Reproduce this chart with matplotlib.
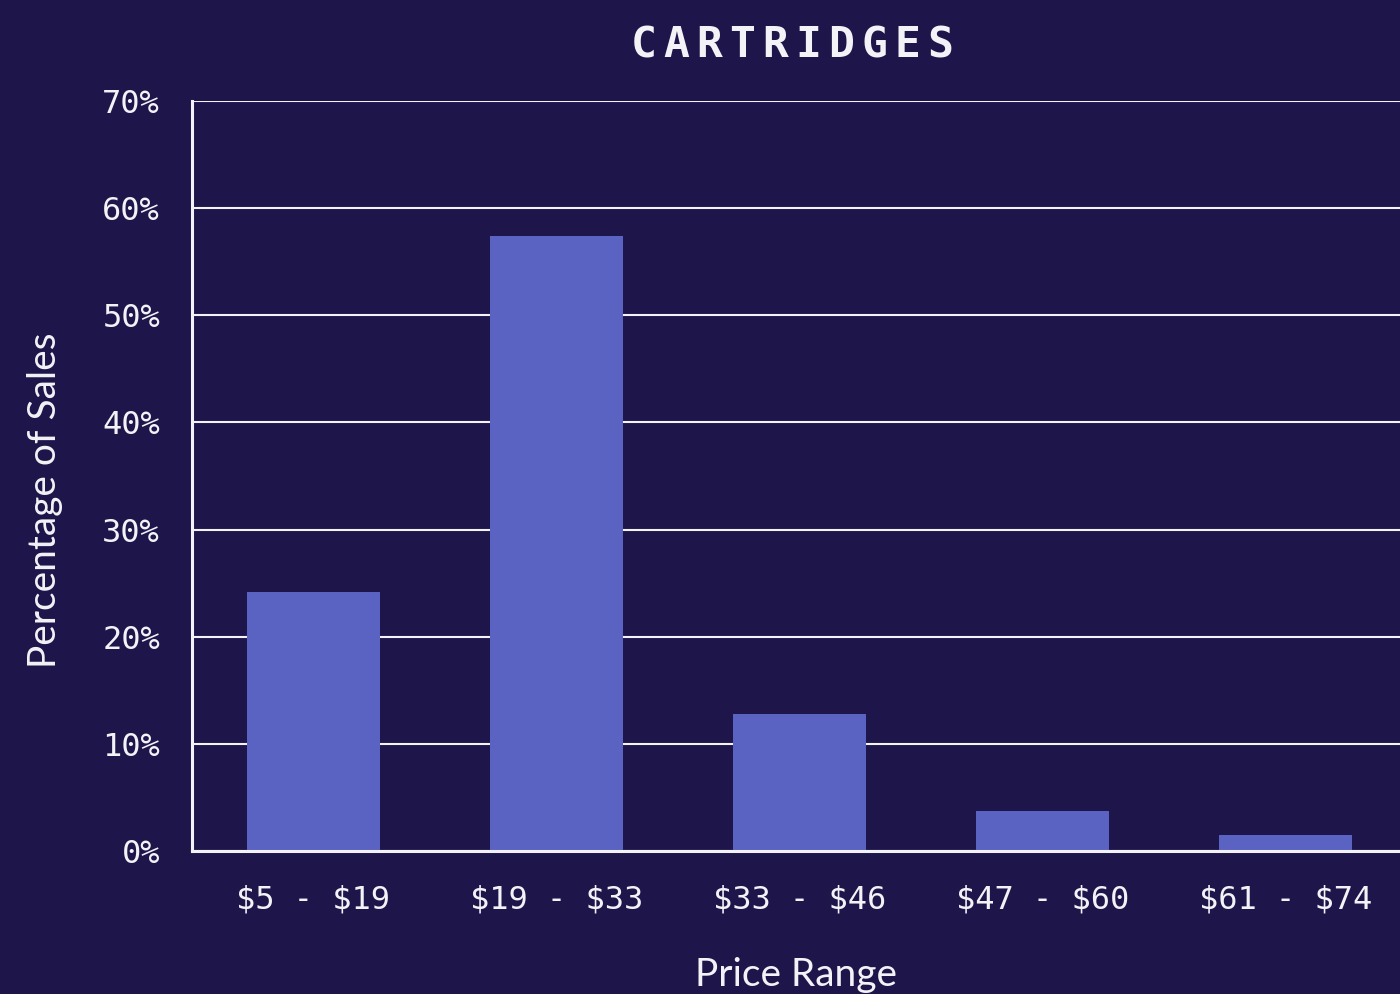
import matplotlib
matplotlib.use("Agg")
import matplotlib.pyplot as plt
from matplotlib.ticker import FuncFormatter

plt.rcParams["text.parse_math"] = False

price_ranges = ["$5 - $19", "$19 - $33", "$33 - $46", "$47 - $60", "$61 - $74"]
sales_pct = [24.2, 57.4, 12.8, 3.7, 1.5]
y_ticks = [0, 10, 20, 30, 40, 50, 60, 70]

bg = "#1e164a"
bar_color = "#5a62c2"
fg = "#f2f2f7"

fig = plt.figure(figsize=(14, 9.94), dpi=100, facecolor=bg)
ax = fig.add_axes([192 / 1400, 143 / 994, 1215 / 1400, 750 / 994], facecolor=bg)

x = list(range(len(price_ranges)))
ax.bar(x, sales_pct, width=0.55, color=bar_color, zorder=3)

ax.set_xlim(-0.5, len(price_ranges) - 0.5)
ax.set_ylim(0, 70)
ax.set_yticks(y_ticks)
ax.yaxis.set_major_formatter(FuncFormatter(lambda v, p: f"{v:.0f}%"))
ax.set_xticks(x)
ax.set_xticklabels(price_ranges)

ax.grid(axis="y", color=fg, linewidth=1.5, zorder=0)
ax.set_axisbelow(True)
for side in ("top", "right"):
    ax.spines[side].set_visible(False)
for side in ("left", "bottom"):
    ax.spines[side].set_color(fg)
    ax.spines[side].set_linewidth(2.2)
    ax.spines[side].set_zorder(4)

mono = "DejaVu Sans Mono"
ax.tick_params(axis="both", length=0, colors=fg, labelsize=23)
ax.tick_params(axis="y", pad=23)
ax.tick_params(axis="x", pad=24)
for lbl in ax.get_xticklabels() + ax.get_yticklabels():
    lbl.set_fontfamily(mono)

# Letter-spaced title drawn character by character
title = "CARTRIDGES"
cx, step = 792 / 1400, 33 / 1400
start = cx - step * (len(title) - 1) / 2
for i, ch in enumerate(title):
    fig.text(start + i * step, 1 - 45 / 994, ch, ha="center", va="center",
             fontsize=31, fontweight="bold", family=mono, color=fg)

fig.text(796 / 1400, 1 - 975 / 994, "Price Range", ha="center", va="center",
         fontsize=28, family="Lato", color=fg)
fig.text(45 / 1400, 1 - 500 / 994, "Percentage of Sales", ha="center", va="center",
         rotation=90, fontsize=28, family="Lato", color=fg)

fig.savefig("out.png", dpi=100, facecolor=bg)
